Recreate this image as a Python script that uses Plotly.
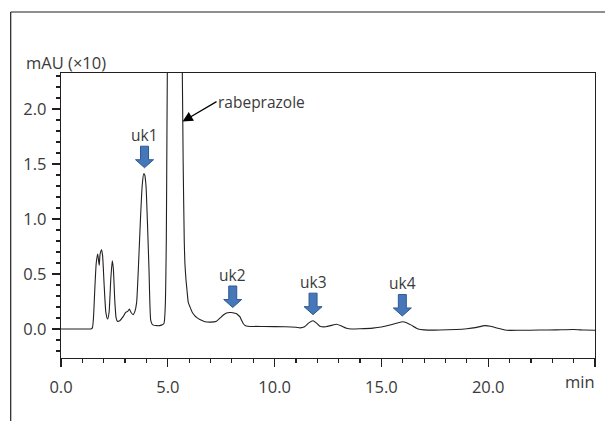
import plotly.graph_objects as go

# ---- data ----
time_min = [0.0, 1.0, 1.4, 1.47, 1.52, 1.58, 1.65, 1.72, 1.76, 1.79, 1.83, 1.9, 1.95, 2.02, 2.1,
            2.18, 2.25, 2.33, 2.4, 2.45, 2.52, 2.58, 2.64, 2.75, 2.9, 3.03, 3.12, 3.2, 3.28, 3.38,
            3.46, 3.54, 3.62, 3.72, 3.8, 3.87, 3.92, 3.98, 4.05, 4.12, 4.2, 4.28, 4.5, 4.7, 4.82,
            4.88, 4.93, 4.96, 5.0, 5.1, 5.3, 5.4, 5.55, 5.64, 5.68, 5.72, 5.77, 5.8, 5.85, 5.9,
            5.96, 6.04, 6.15, 6.27, 6.35, 6.5, 6.74, 7.0, 7.28, 7.45, 7.6, 7.75, 7.9, 8.05, 8.2,
            8.3, 8.38, 8.45, 8.53, 8.62, 8.75, 9.5, 10.5, 11.0, 11.2, 11.4, 11.6, 11.8, 11.95, 12.12,
            12.4, 12.7, 12.9, 13.1, 13.37, 13.6, 14.0, 14.6, 15.0, 15.4, 15.75, 16.0, 16.2, 16.4, 16.72,
            17.0, 17.73, 18.5, 19.0, 19.4, 19.84, 20.1, 20.4, 20.86, 21.5, 22.4, 23.2, 24.0, 24.5, 25.0]
absorbance = [0.0, 0.0, 0.0, 0.01, 0.1, 0.35, 0.6, 0.68, 0.62, 0.58, 0.68, 0.72, 0.66, 0.4, 0.15,
              0.09, 0.15, 0.45, 0.62, 0.55, 0.25, 0.1, 0.07, 0.075, 0.11, 0.15, 0.16, 0.18, 0.15, 0.13,
              0.16, 0.24, 0.54, 1.0, 1.3, 1.41, 1.4, 1.3, 0.95, 0.54, 0.08, 0.04, 0.03, 0.035, 0.05,
              0.2, 0.8, 1.8, 3.0, 6.0, 9.0, 9.0, 5.0, 3.0, 2.33, 1.5, 0.8, 0.6, 0.45, 0.35,
              0.24, 0.2, 0.15, 0.12, 0.105, 0.085, 0.066, 0.062, 0.07, 0.1, 0.127, 0.145, 0.15, 0.148, 0.14,
              0.125, 0.11, 0.08, 0.05, 0.032, 0.025, 0.022, 0.02, 0.015, 0.01, 0.02, 0.055, 0.075, 0.055, 0.025,
              0.02, 0.035, 0.043, 0.03, 0.006, 0.0, 0.002, 0.008, 0.018, 0.036, 0.055, 0.066, 0.055, 0.035, 0.0,
              -0.008, -0.01, -0.005, 0.002, 0.012, 0.03, 0.025, 0.008, -0.012, -0.012, -0.01, -0.008, -0.005, -0.01, -0.012]

peak_labels = ["uk1", "uk2", "uk3", "uk4"]
peak_times = [3.91, 8.04, 11.80, 15.98]
arrow_tips = [1.466, 0.195, 0.130, 0.118]

main_label = "rabeprazole"
main_arrow_time = 5.69
main_arrow_value = 1.885

x_ticks = [0, 5, 10, 15, 20, 25]
x_ticktext = ["0.0", "5.0", "10.0", "15.0", "20.0", ""]
y_ticks = [0.0, 0.5, 1.0, 1.5, 2.0]
y_ticktext = ["0.0", "0.5", "1.0", "1.5", "2.0"]

# ---- layout geometry ----
W, H = 605, 421
ML, MR, MT, MB = 61, 10, 73, 63
X_RANGE = [0, 25]
Y_RANGE = [-0.264, 2.327]
pw, ph = W - ML - MR, H - MT - MB
px_x = pw / (X_RANGE[1] - X_RANGE[0])   # pixels per minute
px_y = ph / (Y_RANGE[1] - Y_RANGE[0])   # pixels per unit

TXT = "#3a3a3a"
LINE = "#231f20"
FONT = "Open Sans, DejaVu Sans, sans-serif"

fig = go.Figure()
fig.add_trace(go.Scatter(x=time_min, y=absorbance, mode="lines",
                         line=dict(color=LINE, width=1.1, shape="spline", smoothing=0.5),
                         hoverinfo="skip", showlegend=False))

shapes = []
annotations = []

# block arrows for unknown peaks
head_w, shaft_w, arr_h, head_h = 18, 8, 21.5, 8
for lab, t, tip in zip(peak_labels, peak_times, arrow_tips):
    hw = head_w / 2 / px_x
    sw = shaft_w / 2 / px_x
    top = tip + arr_h / px_y
    hb = tip + head_h / px_y
    path = (f"M {t - sw} {top} L {t + sw} {top} L {t + sw} {hb} L {t + hw} {hb} "
            f"L {t} {tip} L {t - hw} {hb} L {t - sw} {hb} Z")
    shapes.append(dict(type="path", path=path, xref="x", yref="y",
                       fillcolor="#4677b8", line=dict(color="#2e5a92", width=1)))
    annotations.append(dict(x=t, y=tip + (arr_h + 11) / px_y, xref="x", yref="y",
                            text=lab, showarrow=False, xanchor="center", yanchor="middle",
                            font=dict(family=FONT, size=15.5, color=TXT)))

# rabeprazole label + arrow
annotations.append(dict(x=main_arrow_time, y=main_arrow_value, xref="x", yref="y",
                        text=main_label, showarrow=True, arrowhead=2, arrowsize=1.7,
                        arrowwidth=1.2, arrowcolor="#000000", axref="pixel", ayref="pixel",
                        ax=34, ay=-20, xanchor="left", yanchor="middle", borderpad=0,
                        font=dict(family=FONT, size=15.5, color=TXT)))

# axis title / unit labels
annotations.append(dict(x=(24 - ML) / pw, y=(H - MB - 62) / ph, xref="paper", yref="paper",
                        text="mAU (×10)", showarrow=False, xanchor="left", yanchor="middle",
                        font=dict(family=FONT, size=16.5, color=TXT)))
annotations.append(dict(x=(597 - ML) / pw, y=(H - MB - 381) / ph, xref="paper", yref="paper",
                        text="min", showarrow=False, xanchor="right", yanchor="middle",
                        font=dict(family=FONT, size=16.5, color=TXT)))

# outer frame (left and top edges)
fx0 = (10.7 - ML) / pw
fy0 = (H - MB - 12) / ph
shapes.append(dict(type="line", xref="paper", yref="paper", x0=fx0, x1=fx0,
                   y0=fy0, y1=-(MB + 5) / ph, line=dict(color=LINE, width=1.2)))
shapes.append(dict(type="line", xref="paper", yref="paper", x0=fx0, x1=(W - ML + 5) / pw,
                   y0=fy0, y1=fy0, line=dict(color=LINE, width=1.2)))

axis_common = dict(showgrid=False, zeroline=False, showline=True, linecolor=LINE,
                   linewidth=1.2, mirror=True, ticks="outside", tickcolor=LINE,
                   tickwidth=1.2, ticklen=8, automargin=False,
                   tickfont=dict(family=FONT, size=16.5, color=TXT))

fig.update_layout(
    width=W, height=H,
    margin=dict(l=ML, r=MR, t=MT, b=MB, pad=0, autoexpand=False),
    paper_bgcolor="white", plot_bgcolor="white",
    showlegend=False,
    shapes=shapes, annotations=annotations,
    xaxis=dict(range=X_RANGE, tickmode="array", tickvals=x_ticks, ticktext=x_ticktext,
               minor=dict(dtick=1, ticks="outside", ticklen=4, tickcolor=LINE, tickwidth=1.2),
               ticklabelstandoff=6, **axis_common),
    yaxis=dict(range=Y_RANGE, tickmode="array", tickvals=y_ticks, ticktext=y_ticktext,
               minor=dict(dtick=0.1, tick0=0, ticks="outside", ticklen=4, tickcolor=LINE, tickwidth=1.2),
               ticklabelstandoff=2, **axis_common),
)

fig.write_html("out.html", config={"displayModeBar": False, "staticPlot": True},
               post_script="document.body.style.margin='0';document.body.style.overflow='hidden';")
